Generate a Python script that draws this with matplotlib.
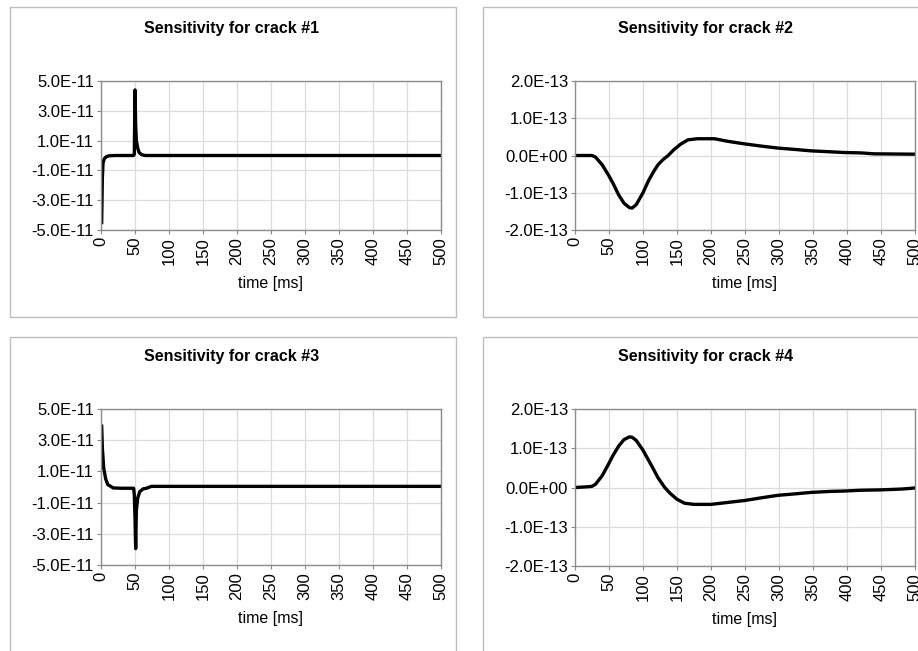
import matplotlib
matplotlib.use("Agg")
import matplotlib.pyplot as plt
from matplotlib.patches import Rectangle
from matplotlib.ticker import FuncFormatter
import numpy as np

plt.rcParams['font.family'] = ['Liberation Sans', 'DejaVu Sans']

############# data ###################################
titles = ["Sensitivity for crack #1", "Sensitivity for crack #2",
          "Sensitivity for crack #3", "Sensitivity for crack #4"]

t1 = [1, 2, 3, 5, 8, 12, 20, 30, 40, 48, 49, 50, 51, 52, 54, 56, 60, 65, 80, 150, 300, 500]
s1 = [-4.5e-11, -1.5e-11, -0.5e-11, -0.2e-11, -0.08e-11, -0.02e-11, 0, 0, 0, 0, 0.1e-11,
      4.4e-11, 2.0e-11, 1.0e-11, 0.5e-11, 0.2e-11, 0.05e-11, 0, 0, 0, 0, 0]

t2 = [0, 10, 20, 25, 30, 40, 50, 56, 64, 72, 80, 84, 90, 100, 108, 115, 122, 130, 137,
      145, 155, 166, 180, 205, 225, 250, 275, 298, 325, 347, 375, 396, 420, 440, 470, 500]
s2 = [0, 0, 0, 0, -0.04e-13, -0.25e-13, -0.55e-13, -0.75e-13, -1.05e-13, -1.28e-13,
      -1.4e-13, -1.41e-13, -1.32e-13, -1.0e-13, -0.68e-13, -0.45e-13, -0.25e-13,
      -0.1e-13, 0, 0.15e-13, 0.3e-13, 0.42e-13, 0.45e-13, 0.45e-13, 0.38e-13,
      0.31e-13, 0.25e-13, 0.2e-13, 0.16e-13, 0.125e-13, 0.1e-13, 0.08e-13, 0.07e-13,
      0.045e-13, 0.04e-13, 0.035e-13]

t3 = [1, 2, 4, 7, 10, 18, 30, 40, 48, 49, 50, 51, 52, 54, 57, 62, 67, 74, 100, 300, 500]
s3 = [3.9e-11, 2.5e-11, 1.2e-11, 0.5e-11, 0.15e-11, -0.06e-11, -0.08e-11, -0.08e-11,
      -0.08e-11, -0.5e-11, -2.0e-11, -3.95e-11, -1.5e-11, -0.7e-11, -0.3e-11,
      -0.12e-11, -0.08e-11, 0.04e-11, 0.04e-11, 0.04e-11, 0.04e-11]

t4 = [0, 10, 20, 25, 30, 40, 50, 56, 64, 72, 80, 84, 90, 100, 108, 115, 122, 132,
      140, 150, 161, 175, 200, 225, 250, 275, 298, 325, 347, 375, 396, 420, 450, 480, 495, 500]
s4 = [0, 0.01e-13, 0.02e-13, 0.03e-13, 0.08e-13, 0.3e-13, 0.62e-13, 0.82e-13, 1.05e-13,
      1.22e-13, 1.29e-13, 1.28e-13, 1.2e-13, 0.95e-13, 0.7e-13, 0.48e-13, 0.25e-13, 0,
      -0.15e-13, -0.3e-13, -0.4e-13, -0.43e-13, -0.43e-13, -0.38e-13, -0.33e-13,
      -0.26e-13, -0.2e-13, -0.16e-13, -0.125e-13, -0.1e-13, -0.09e-13, -0.07e-13,
      -0.06e-13, -0.04e-13, -0.02e-13, -0.01e-13]

xticks = list(range(0, 501, 50))
yticks_a = [-5e-11, -3e-11, -1e-11, 1e-11, 3e-11, 5e-11]
yticks_b = [-2e-13, -1e-13, 0, 1e-13, 2e-13]

W, H = 918, 651
fig = plt.figure(figsize=(W / 100, H / 100), dpi=100)

# outer chart borders (pixels: left, top, right, bottom)
for l, t, r, b in [(10, 7, 456, 317), (483, 7, 930, 317),
                   (10, 337, 456, 660), (483, 337, 930, 660)]:
    fig.patches.append(Rectangle((l / W, 1 - b / H), (r - l) / W, (b - t) / H,
                                 transform=fig.transFigure, fill=False,
                                 edgecolor='#bdbdbd', linewidth=1.0))

# axes boxes in pixels: left, top, right, bottom
boxes = [(101, 81, 441, 230), (575, 81, 915, 230),
         (101, 409, 441, 565), (575, 409, 915, 566)]
series = [(t1, s1, yticks_a), (t2, s2, yticks_b), (t3, s3, yticks_a), (t4, s4, yticks_b)]
title_pos = [(232, 28), (706, 28), (232, 356), (706, 356)]

fmt = FuncFormatter(lambda v, p: format(v, '.1E'))

for i in range(4):
    l, t, r, b = boxes[i]
    ax = fig.add_axes([l / W, 1 - b / H, (r - l) / W, (b - t) / H])
    x, y, yt = series[i]
    ax.plot(x, y, color='black', linewidth=2.4, solid_joinstyle='round')
    ax.set_xlim(0, 500)
    ax.set_ylim(yt[0], yt[-1])
    ax.set_xticks(xticks)
    ax.set_yticks(yt)
    ax.yaxis.set_major_formatter(fmt)
    ax.tick_params(axis='x', labelrotation=90, labelsize=12, length=3,
                   color='#888888', pad=2)
    ax.tick_params(axis='y', labelsize=12, length=3, color='#888888', pad=2)
    ax.grid(True, color='#dcdcdc', linewidth=0.9)
    ax.set_axisbelow(True)
    for sp in ax.spines.values():
        sp.set_color('#8c8c8c')
        sp.set_linewidth(1.0)
    ax.set_xlabel("time [ms]", fontsize=11.5, labelpad=8)
    tx, ty = title_pos[i]
    fig.text(tx / W, 1 - ty / H, titles[i], ha='center', va='center',
             fontsize=11.5, fontweight='bold')

fig.savefig("out.png", dpi=100)
